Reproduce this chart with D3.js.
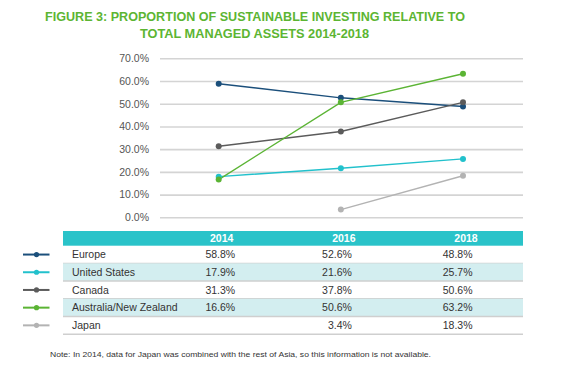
<!DOCTYPE html>
<html lang="en">
<head>
    <meta charset="UTF-8">
    <title>Sustainable investing proportion</title>
    <script src="https://d3js.org/d3.v7.min.js"></script>
    <style>
        body { margin: 0; background: #fff; }
        svg { font-family: "Liberation Sans", Arial, sans-serif; }
    </style>
</head>
<body>
    <div id="chart"></div>

    <script>
        // data
        var years = [2014, 2016, 2018];
        var regions = ["Europe", "United States", "Canada", "Australia/New Zealand", "Japan"];
        var europe = [58.8, 52.6, 48.8];
        var unitedStates = [17.9, 21.6, 25.7];
        var canada = [31.3, 37.8, 50.6];
        var australiaNZ = [16.6, 50.6, 63.2];
        var japan = [null, 3.4, 18.3];
        var yTicks = [0, 10, 20, 30, 40, 50, 60, 70];
        var colors = ["#1b4f7b", "#22c1cc", "#5b5b5b", "#5bb434", "#b3b3b3"];

        var series = [europe, unitedStates, canada, australiaNZ, japan];

        var W = 573, H = 371;
        var svg = d3.select("#chart").append("svg")
            .attr("width", W)
            .attr("height", H);

        // title
        var title = svg.append("g").attr("fill", "#5cb532").attr("font-weight", "bold")
            .attr("font-size", 12.5).attr("text-anchor", "middle");
        title.append("text").attr("x", 255).attr("y", 21)
            .attr("textLength", 420).attr("lengthAdjust", "spacingAndGlyphs")
            .text("FIGURE 3: PROPORTION OF SUSTAINABLE INVESTING RELATIVE TO");
        title.append("text").attr("x", 254.5).attr("y", 38)
            .attr("textLength", 229).attr("lengthAdjust", "spacingAndGlyphs")
            .text("TOTAL MANAGED ASSETS 2014-2018");

        // scales
        var x = d3.scaleLinear().domain([2014, 2018]).range([218.7, 463]);
        var y = d3.scaleLinear().domain([0, 70]).range([217.3, 58.3]);

        // gridlines + y axis
        var yAxis = svg.append("g")
            .attr("transform", "translate(160,0)")
            .call(d3.axisLeft(y).tickValues(yTicks)
                .tickSize(-363).tickPadding(11)
                .tickFormat(function(d) { return d.toFixed(1) + "%"; }));
        yAxis.select(".domain").remove();
        yAxis.selectAll("line").attr("stroke", "#d4d4d4").attr("stroke-width", 1.6);
        yAxis.selectAll("text").attr("fill", "#555").attr("font-size", 10.5)
            .attr("font-family", "Liberation Sans, Arial, sans-serif");

        // lines
        var line = d3.line()
            .defined(function(d) { return d != null; })
            .x(function(d, i) { return x(years[i]); })
            .y(function(d) { return y(d); });

        series.forEach(function(vals, s) {
            svg.append("path")
                .attr("d", line(vals))
                .attr("fill", "none")
                .attr("stroke", colors[s])
                .attr("stroke-width", 1.4);
        });
        series.forEach(function(vals, s) {
            svg.selectAll(null)
                .data(vals.map(function(v, i) { return {v: v, year: years[i]}; })
                    .filter(function(d) { return d.v != null; }))
                .enter()
                .append("circle")
                .attr("cx", function(d) { return x(d.year); })
                .attr("cy", function(d) { return y(d.v); })
                .attr("r", 3)
                .attr("fill", colors[s]);
        });

        // data table
        var tableLeft = 63, tableRight = 523;
        var headTop = 231, headH = 14.7, rowH = 17.7;
        var table = svg.append("g");

        table.append("rect")
            .attr("x", tableLeft).attr("y", headTop)
            .attr("width", tableRight - tableLeft).attr("height", headH)
            .attr("fill", "#2ac3c9");

        years.forEach(function(yr) {
            table.append("text")
                .attr("x", x(yr) + 3).attr("y", headTop + 11)
                .attr("text-anchor", "middle")
                .attr("fill", "#fff").attr("font-weight", "bold").attr("font-size", 10.5)
                .text(yr);
        });

        regions.forEach(function(name, r) {
            var top = headTop + headH + r * rowH;
            if (r % 2 == 1) {
                table.append("rect")
                    .attr("x", tableLeft).attr("y", top)
                    .attr("width", tableRight - tableLeft).attr("height", rowH)
                    .attr("fill", "#d3eef0");
            }
            table.append("line")
                .attr("x1", tableLeft).attr("x2", tableRight)
                .attr("y1", top + rowH).attr("y2", top + rowH)
                .attr("stroke", "#cfcfcf").attr("stroke-width", 1.5);

            var cy = top + rowH / 2;
            table.append("text")
                .attr("x", 72).attr("y", cy + 3.8)
                .attr("fill", "#333").attr("font-size", 10.5)
                .text(name);

            series[r].forEach(function(v, i) {
                if (v == null) return;
                table.append("text")
                    .attr("x", x(years[i]) + (i == 0 ? 16.5 : i == 1 ? 11 : 9.5))
                    .attr("y", cy + 3.8)
                    .attr("text-anchor", "end")
                    .attr("fill", "#333").attr("font-size", 10.5)
                    .text(v.toFixed(1) + "%");
            });

            // legend key
            table.append("line")
                .attr("x1", 23).attr("x2", 49.5)
                .attr("y1", cy).attr("y2", cy)
                .attr("stroke", colors[r]).attr("stroke-width", 2);
            table.append("circle")
                .attr("cx", 36.5).attr("cy", cy).attr("r", 2.6)
                .attr("fill", colors[r]);
        });

        // note
        svg.append("text")
            .attr("x", 50).attr("y", 357)
            .attr("fill", "#333").attr("font-size", 7.6)
            .attr("textLength", 381).attr("lengthAdjust", "spacingAndGlyphs")
            .text("Note: In 2014, data for Japan was combined with the rest of Asia, so this information is not available.");
    </script>
</body>
</html>
